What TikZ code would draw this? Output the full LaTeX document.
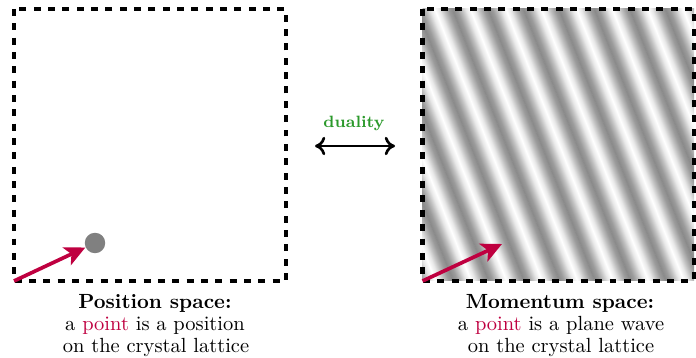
\documentclass[tikz,border=0pt]{standalone}
\usetikzlibrary{arrows.meta}
\definecolor{dualgreen}{rgb}{0.17,0.6,0.17}
\pgfdeclarehorizontalshading{wavestrip}{100bp}{color(0bp)=(black!46); color(25bp)=(black!46); color(31.25bp)=(black!39); color(37.5bp)=(black!25); color(43.75bp)=(black!9); color(50bp)=(white); color(56.25bp)=(black!9); color(62.5bp)=(black!25); color(68.75bp)=(black!39); color(75bp)=(black!46); color(100bp)=(black!46)}
\begin{document}
\begin{tikzpicture}[x=0.488pt,y=-0.488pt,
  frame/.style={line width=2pt, dash pattern=on 3.4pt off 3.6pt},
  vec/.style={purple, line width=1.8pt, -{Stealth[length=10pt,width=9.5pt,inset=2.5pt]}},
  dualarrow/.style={line width=1.3pt, {Computer Modern Rightarrow[length=5pt,width=9pt]}-{Computer Modern Rightarrow[length=5pt,width=9pt]}},
  capbold/.style={font=\bfseries, anchor=base, inner sep=0pt},
  captext/.style={anchor=base, inner sep=0pt},
  strip/.style={shading=wavestrip, draw=none}
]
\useasboundingbox (0,0) rectangle (696,358);

% ---- position space ----
\draw[frame] (14,9) rectangle (286,281);
\coordinate (o1) at (14,281);
\node (dot) [circle, fill=gray, inner sep=0pt, minimum size=10pt] at (95,243) {};
\draw[vec] (o1) -- (dot);

% ---- momentum space ----
\begin{scope}
  \clip (422.5,9) rectangle (694,281);
  \begin{scope}[transform canvas={shift={(422.5,281)}, rotate=21.5}]
    \foreach \n in {-1,...,12} {
      \shade[strip] ({12+33*\n-16.7},-330) rectangle ({12+33*\n+16.7},330);
    }
  \end{scope}
\end{scope}
\draw[frame] (422.5,9) rectangle (694,281);
\coordinate (o2) at (422.5,281);
\coordinate (k2) at (502,244);
\draw[vec] (o2) -- (k2);

% ---- duality ----
\coordinate (dl) at (315,146);
\coordinate (dr) at (395,146);
\draw[dualarrow] (dl) -- (dr);
\node (dual) [font=\footnotesize\bfseries, text=dualgreen, anchor=base, inner sep=0pt] at (354,128) {duality};

% ---- captions ----
\node (poshead) [capbold] at (155,309) {Position space:};
\node (posl1) [captext] at (155,330) {a \textcolor{purple}{point} is a position};
\node (posl2) [captext] at (156,352) {on the crystal lattice};

\node (momhead) [capbold] at (560,309) {Momentum space:};
\node (moml1) [captext] at (561,330) {a \textcolor{purple}{point} is a plane wave};
\node (moml2) [captext] at (561,352) {on the crystal lattice};
\end{tikzpicture}
\end{document}
